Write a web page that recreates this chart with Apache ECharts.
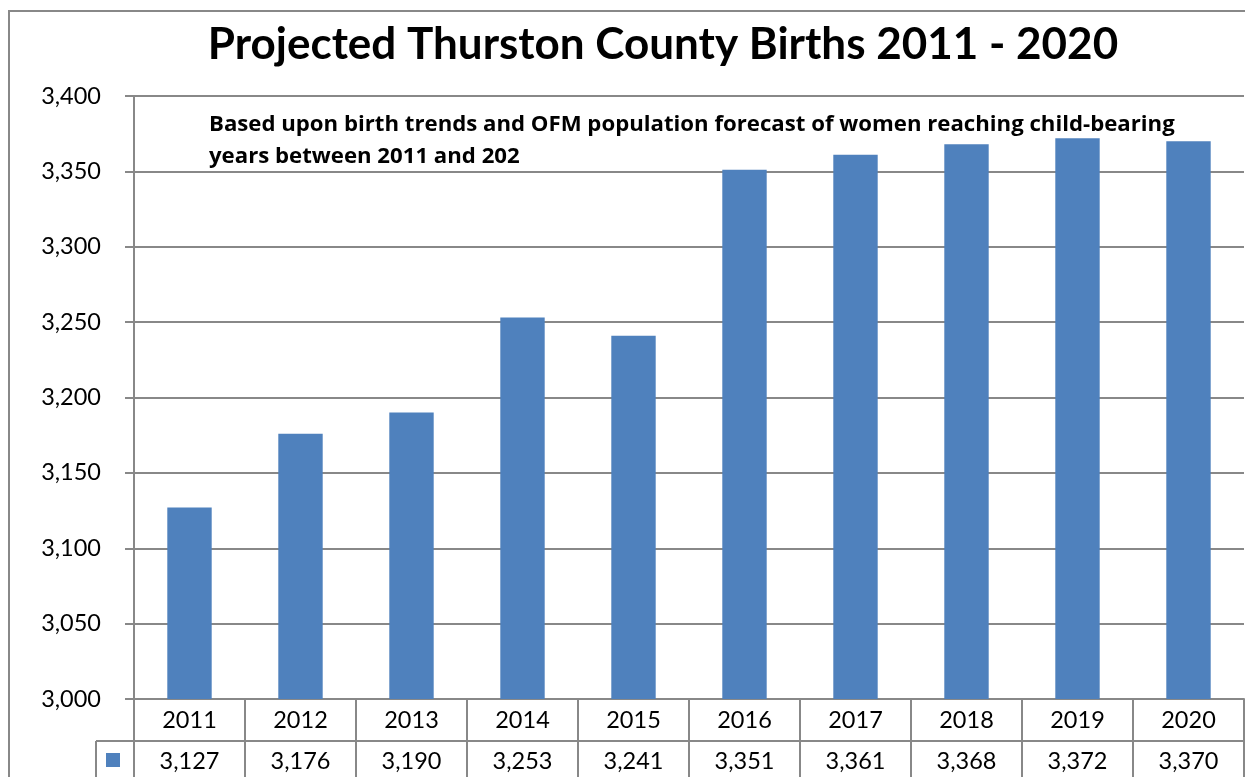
<!DOCTYPE html>
<html><head><meta charset="utf-8">
<script src="https://cdn.jsdelivr.net/npm/echarts@6/dist/echarts.min.js"></script>
<style>html,body{margin:0;padding:0;background:#fff}#c{width:1245px;height:777px}</style>
</head><body><div id="c"></div>
<script>
const years = ['2011','2012','2013','2014','2015','2016','2017','2018','2019','2020'];
const births = [3127, 3176, 3190, 3253, 3241, 3351, 3361, 3368, 3372, 3370];
const titleText = 'Projected Thurston County Births 2011 - 2020';
const noteLines = ['Based upon birth trends and OFM population forecast of women reaching child-bearing', 'years between 2011 and 202'];
const seriesName = 'Births';

const FONT = 'Lato';
const GRAY = '#888888';
const fmt = v => Number(v).toLocaleString('en-US');

const chart = echarts.init(document.getElementById('c'), null, {renderer: 'canvas'});
chart.setOption({
  animation: false,
  textStyle: {fontFamily: FONT},
  title: {
    text: titleText, left: 658, top: 18, textAlign: 'center',
    textStyle: {fontFamily: FONT, fontWeight: 'bold', fontSize: 44, color: '#000'}
  },
  legend: {
    data: [seriesName], left: 106, top: 753, itemWidth: 14, itemHeight: 14,
    icon: 'rect', formatter: () => '', selectedMode: false, padding: 0
  },
  grid: {left: 134, top: 96, right: 1, bottom: 78, containLabel: false},
  xAxis: [{
    type: 'category', data: years, position: 'bottom',
    axisLine: {show: true, lineStyle: {color: GRAY, width: 2}},
    axisTick: {show: true, length: 84, lineStyle: {color: GRAY, width: 2}},
    axisLabel: {fontSize: 23.5, color: '#000', margin: 9, fontFamily: FONT}
  }, {
    type: 'category', data: years, position: 'bottom', offset: 42,
    axisLine: {show: true, lineStyle: {color: GRAY, width: 2}},
    axisTick: {show: false},
    axisLabel: {fontSize: 23.5, color: '#000', margin: 8, fontFamily: FONT,
      formatter: (v, i) => fmt(births[i])}
  }],
  yAxis: {
    type: 'value', min: 3000, max: 3400, interval: 50,
    axisLine: {show: true, lineStyle: {color: GRAY, width: 2}},
    axisTick: {show: true, length: 9, lineStyle: {color: GRAY, width: 2}},
    splitLine: {show: true, lineStyle: {color: GRAY, width: 2}},
    axisLabel: {fontSize: 23.5, color: '#000', margin: 33, fontFamily: FONT, formatter: v => fmt(v)}
  },
  series: [{
    name: seriesName, type: 'bar', data: births, barWidth: '40%',
    itemStyle: {color: '#4F81BD'}
  }],
  graphic: [
    {type: 'rect', shape: {x: 9, y: 11, width: 1300, height: 900}, style: {fill: 'none', stroke: GRAY, lineWidth: 2}, z: 100, silent: true},
    {type: 'line', shape: {x1: 96, y1: 741, x2: 134, y2: 741}, style: {stroke: GRAY, lineWidth: 2}, z: 100},
    {type: 'line', shape: {x1: 96, y1: 741, x2: 96, y2: 800}, style: {stroke: GRAY, lineWidth: 2}, z: 100},
    {type: 'text', left: 209, top: 109, z: 100,
      style: {text: noteLines.join('\n'), font: 'bold 22.2px "Open Sans"', fill: '#000', lineHeight: 32}}
  ]
});
</script></body></html>
